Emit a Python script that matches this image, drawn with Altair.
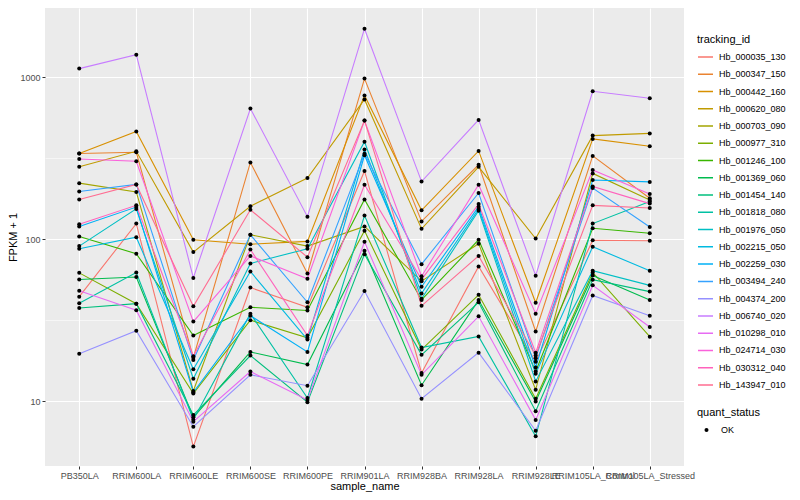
import altair as alt
import pandas as pd

samples = ["PB350LA", "RRIM600LA", "RRIM600LE", "RRIM600SE", "RRIM600PE", "RRIM901LA",
           "RRIM928BA", "RRIM928LA", "RRIM928LE", "RRIM105LA_Control", "RRIM105LA_Stressed"]

tracking_ids = ["Hb_000035_130", "Hb_000347_150", "Hb_000442_160", "Hb_000620_080",
                "Hb_000703_090", "Hb_000977_310", "Hb_001246_100", "Hb_001369_060",
                "Hb_001454_140", "Hb_001818_080", "Hb_001976_050", "Hb_002215_050",
                "Hb_002259_030", "Hb_003494_240", "Hb_004374_200", "Hb_006740_020",
                "Hb_010298_010", "Hb_024714_030", "Hb_030312_040", "Hb_143947_010"]

hb_000035_130 = [44.3, 125, 5.27, 50.4, 38.1, 264, 15.0, 68, 17.6, 98.7, 98]
hb_000347_150 = [338, 344, 18.6, 298, 61.6, 980, 129, 288, 27.0, 327, 179]
hb_000442_160 = [338, 462, 99.3, 93.3, 97.1, 772, 151, 351, 40.6, 416, 375]
hb_000620_080 = [280, 349, 83.4, 160, 239, 729, 116, 280, 101, 436, 450]
hb_000703_090 = [222, 196, 11.6, 106.6, 90.8, 120, 55.2, 94, 11.8, 255, 175]
hb_000977_310 = [62.1, 40.1, 11.2, 31.7, 24.7, 113, 20.9, 45.5, 10.4, 62.5, 25.1]
hb_001246_100 = [104, 81.5, 25.5, 38.1, 36.4, 176, 42.3, 99.3, 15.3, 117, 109]
hb_001369_060 = [56.5, 58.6, 7.98, 20.2, 16.9, 85, 12.6, 42.2, 10.0, 59.8, 42.3]
hb_001454_140 = [37.7, 40.1, 8.24, 19.2, 9.9, 81, 19.4, 40.9, 8.7, 56.4, 47.6]
hb_001818_080 = [40.3, 62.4, 7.71, 34.8, 10.5, 140, 21.5, 25.2, 6.1, 125, 171]
hb_001976_050 = [90.8, 154, 13.8, 71, 87.5, 400, 43, 150, 13.3, 64.1, 52]
hb_002215_050 = [87.5, 103, 15.8, 63.3, 24.1, 358, 46.4, 154, 14.8, 90, 64]
hb_002259_030 = [120, 158, 11.4, 33.8, 20.2, 330, 51, 159, 16.2, 232, 226]
hb_003494_240 = [197, 218, 18.0, 106.6, 40.9, 337, 70.3, 193, 18.5, 207, 119]
hb_004374_200 = [19.7, 27.3, 6.99, 14.6, 12.5, 48, 10.4, 20.0, 6.6, 45, 33.8]
hb_006740_020 = [1129, 1375, 57.8, 640, 138, 1990, 227, 545, 59.7, 818, 741]
hb_010298_010 = [48.2, 36.5, 7.5, 15.3, 10.2, 96.5, 14.6, 33.5, 7.7, 52, 28.8]
hb_024714_030 = [313, 303, 31.1, 79, 57.2, 540, 59.2, 217, 34.8, 268, 190]
hb_030312_040 = [124, 162, 19.0, 86.5, 25.5, 217, 56.6, 165, 20.0, 212, 166]
hb_143947_010 = [176, 218, 38.6, 152, 77.6, 540, 38.9, 79, 19.2, 162, 156]

series_values = [hb_000035_130, hb_000347_150, hb_000442_160, hb_000620_080, hb_000703_090,
                 hb_000977_310, hb_001246_100, hb_001369_060, hb_001454_140, hb_001818_080,
                 hb_001976_050, hb_002215_050, hb_002259_030, hb_003494_240, hb_004374_200,
                 hb_006740_020, hb_010298_010, hb_024714_030, hb_030312_040, hb_143947_010]

palette = ["#F8766D", "#EA8331", "#D89000", "#C09B00", "#A3A500", "#7CAE00", "#39B600",
           "#00BB4E", "#00BF7D", "#00C1A3", "#00BFC4", "#00BAE0", "#00B0F6", "#35A2FF",
           "#9590FF", "#C77CFF", "#E76BF3", "#FA62DB", "#FF62BC", "#FF6C91"]

rows = []
for tid, vals in zip(tracking_ids, series_values):
    for s, v in zip(samples, vals):
        rows.append({"tracking_id": tid, "sample_name": s, "fpkm1": v, "quant_status": "OK"})
df = pd.DataFrame(rows)

FONT = "Liberation Sans"
major = "datum.value == 10 || datum.value == 100 || datum.value == 1000"

x_enc = alt.X("sample_name:N", sort=samples,
              scale=alt.Scale(type="point", padding=0.6),
              axis=alt.Axis(title="sample_name", labelAngle=0, labelOverlap=False,
                            labelFontSize=9, labelPadding=2, tickSize=3,
                            titleFontSize=11, titlePadding=0, domain=False,
                            grid=True, gridColor="white", gridWidth=1.1))
y_enc = alt.Y("fpkm1:Q",
              scale=alt.Scale(type="log", domain=[4.0, 2670], nice=False),
              axis=alt.Axis(title="FPKM + 1", values=[10, 31.623, 100, 316.23, 1000],
                            labelExpr=major + " ? format(datum.value, 'd') : ''",
                            tickOpacity=alt.condition(major, alt.value(1), alt.value(0)),
                            gridWidth=alt.condition(major, alt.value(1.1), alt.value(0.55)),
                            gridColor="white", grid=True, domain=False,
                            labelFontSize=9, labelPadding=2, tickSize=3,
                            titleFontSize=11, titlePadding=1))

lines = alt.Chart(df).mark_line(strokeWidth=1.1).encode(
    x=x_enc, y=y_enc,
    color=alt.Color("tracking_id:N",
                    scale=alt.Scale(domain=tracking_ids, range=palette),
                    legend=alt.Legend(title="tracking_id", orient="none",
                                      legendX=652, legendY=26,
                                      symbolType="stroke", symbolSize=225,
                                      symbolStrokeWidth=1.5, clipHeight=16,
                                      rowPadding=1.26, titlePadding=4,
                                      labelOffset=5)),
)

points = alt.Chart(df).mark_point(filled=True, size=16, color="black", opacity=1).encode(
    x=x_enc, y=y_enc,
    shape=alt.Shape("quant_status:N", scale=alt.Scale(range=["circle"]),
                    legend=alt.Legend(title="quant_status", orient="none",
                                      legendX=652, legendY=399,
                                      symbolSize=16, symbolFillColor="black",
                                      symbolStrokeColor="black", clipHeight=16,
                                      titlePadding=4, labelOffset=10, symbolOffset=5)),
)

chart = alt.layer(lines, points).properties(
    width=639, height=458,
    autosize=alt.AutoSizeParams(type="none"),
    padding={"left": 37, "top": 0, "right": 108, "bottom": 26},
).configure_view(
    fill="#EBEBEB", stroke=None
).configure_axis(
    labelFont=FONT, titleFont=FONT, labelColor="#4D4D4D", tickColor="#333333",
    titleColor="black", titleFontWeight="normal"
).configure_legend(
    titleFont=FONT, labelFont=FONT, titleFontSize=11, labelFontSize=9,
    titleFontWeight="normal", titleColor="black", labelColor="black"
)

chart.save("out.html", embed_options={"renderer": "svg", "actions": False})
